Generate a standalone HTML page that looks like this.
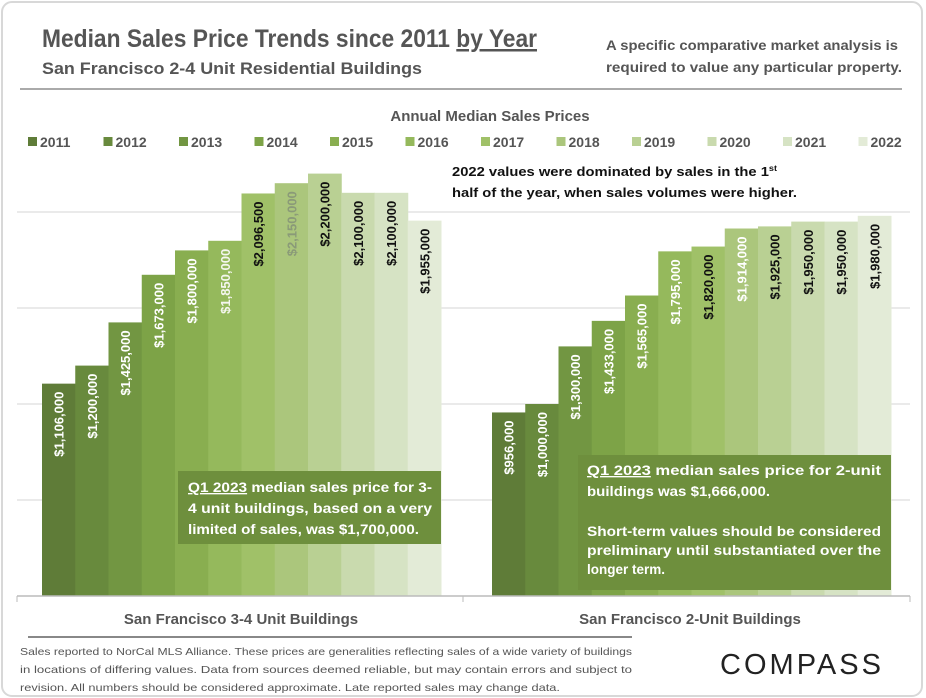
<!DOCTYPE html>
<html><head><meta charset="utf-8">
<style>
body{margin:0;background:#fff;font-family:"Liberation Sans",sans-serif;}
#wrap{position:relative;width:926px;height:698px;overflow:hidden;background:#fff;}
</style></head>
<body>
<div id="wrap">
<svg id="chart" width="926" height="698" style="position:absolute;left:0;top:0">
<rect x="2" y="2" width="920" height="694" rx="10" fill="#fff" stroke="#d8d8d8" stroke-width="2"/>
<text x="42" y="47" font-size="25" font-weight="bold" fill="#555" textLength="495" lengthAdjust="spacingAndGlyphs">Median Sales Price Trends since 2011 <tspan text-decoration="underline">by Year</tspan></text>
<text x="42" y="74" font-size="17" font-weight="bold" fill="#555" textLength="380" lengthAdjust="spacingAndGlyphs">San Francisco 2-4 Unit Residential Buildings</text>
<text x="606" y="50" font-size="14" font-weight="bold" fill="#555" textLength="292" lengthAdjust="spacingAndGlyphs">A specific comparative market analysis is</text>
<text x="606" y="72" font-size="14" font-weight="bold" fill="#555" textLength="296" lengthAdjust="spacingAndGlyphs">required to value any particular property.</text>
<line x1="20" y1="89" x2="902" y2="89" stroke="#aaa" stroke-width="2"/>
<text x="490" y="121" text-anchor="middle" font-size="15" font-weight="bold" fill="#555">Annual Median Sales Prices</text>
<g id="legend"></g>
<g id="grid"></g>
<g id="bars"></g>
<text x="452" y="176" font-size="13" font-weight="bold" fill="#111" textLength="325" lengthAdjust="spacingAndGlyphs">2022 values were dominated by sales in the 1<tspan font-size="8" dy="-5">st</tspan></text>
<text x="452" y="197" font-size="13" font-weight="bold" fill="#111" textLength="345" lengthAdjust="spacingAndGlyphs">half of the year, when sales volumes were higher.</text>
<g>
<rect x="178" y="471" width="263" height="73" fill="#6e8f3d"/>
<text x="188" y="492" font-size="13.5" font-weight="bold" fill="#fff" textLength="244" lengthAdjust="spacingAndGlyphs"><tspan text-decoration="underline">Q1 2023</tspan> median sales price for 3-</text>
<text x="188" y="513" font-size="13.5" font-weight="bold" fill="#fff" textLength="244" lengthAdjust="spacingAndGlyphs">4 unit buildings, based on a very</text>
<text x="188" y="534" font-size="13.5" font-weight="bold" fill="#fff" textLength="231" lengthAdjust="spacingAndGlyphs">limited of sales, was $1,700,000.</text>
</g>
<g>
<rect x="578" y="455" width="313" height="135" fill="#6e8f3d"/>
<text x="587" y="475" font-size="13.5" font-weight="bold" fill="#fff" textLength="294" lengthAdjust="spacingAndGlyphs"><tspan text-decoration="underline">Q1 2023</tspan> median sales price for 2-unit</text>
<text x="587" y="496" font-size="13.5" font-weight="bold" fill="#fff" textLength="183" lengthAdjust="spacingAndGlyphs">buildings was $1,666,000.</text>
<text x="587" y="536" font-size="13.5" font-weight="bold" fill="#fff" textLength="294" lengthAdjust="spacingAndGlyphs">Short-term values should be considered</text>
<text x="587" y="555" font-size="13.5" font-weight="bold" fill="#fff" textLength="294" lengthAdjust="spacingAndGlyphs">preliminary until substantiated over the</text>
<text x="587" y="574" font-size="13.5" font-weight="bold" fill="#fff">longer term.</text>
</g>
<line x1="17" y1="596" x2="910" y2="596" stroke="#bbb" stroke-width="1.5"/>
<line x1="17" y1="596" x2="17" y2="602" stroke="#bbb"/><line x1="463" y1="596" x2="463" y2="602" stroke="#bbb"/><line x1="910" y1="596" x2="910" y2="602" stroke="#bbb"/>
<text id="cat0" x="241" y="624" text-anchor="middle" font-size="15" font-weight="bold" fill="#555">San Francisco 3-4 Unit Buildings</text>
<text id="cat1" x="690" y="624" text-anchor="middle" font-size="15" font-weight="bold" fill="#555">San Francisco 2-Unit Buildings</text>
<line x1="28" y1="637" x2="632" y2="637" stroke="#888" stroke-width="2"/>
<g font-size="10.5" fill="#555">
<text x="20" y="655" textLength="612" lengthAdjust="spacingAndGlyphs">Sales reported to NorCal MLS Alliance. These prices are generalities reflecting sales of a wide variety of buildings</text>
<text x="20" y="673" textLength="612" lengthAdjust="spacingAndGlyphs">in locations of differing values. Data from sources deemed reliable, but may contain errors and subject to</text>
<text x="20" y="691" textLength="540" lengthAdjust="spacingAndGlyphs">revision. All numbers should be considered approximate. Late reported sales may change data.</text>
</g>
<text x="802" y="674" text-anchor="middle" font-size="29" fill="#222" letter-spacing="3">COMPASS</text>
</svg>
</div>
<script>
const years=["2011","2012","2013","2014","2015","2016","2017","2018","2019","2020","2021","2022"];
const categories=["San Francisco 3-4 Unit Buildings","San Francisco 2-Unit Buildings"];
const values34=[1106000,1200000,1425000,1673000,1800000,1850000,2096500,2150000,2200000,2100000,2100000,1955000];
const values2=[956000,1000000,1300000,1433000,1565000,1795000,1820000,1914000,1925000,1950000,1950000,1980000];
const gridTicks=[500000,1000000,1500000,2000000];
const colors=["#5f7c38","#688a3d","#729642","#7da347","#89ae50","#95b95c","#a0c168","#abc67c","#b9d093","#c9daae","#d6e3c4","#e3ebd7"];
const textColors=["#fff","#fff","#fff","#fff","#fff","#f4f6ee","#111","#8a9a78","#111","#111","#111","#111"];
const textColors2=["#fff","#fff","#fff","#fff","#fff","#fff","#111","#fff","#111","#111","#111","#111"];
const NS="http://www.w3.org/2000/svg";
const base=596, scale=192/1000000;
function y(v){return base-v*scale;}
const groupX=[42,492], barW=33.25;
function x(g,i){return groupX[g]+i*barW;}
const grid=document.getElementById('grid');
gridTicks.forEach(t=>{
  const l=document.createElementNS(NS,'line');
  l.setAttribute('x1',17);l.setAttribute('x2',910);
  l.setAttribute('y1',y(t));l.setAttribute('y2',y(t));
  l.setAttribute('stroke','#e4e4e4');l.setAttribute('stroke-width','1.5');
  
  
  grid.appendChild(l);
});
const bars=document.getElementById('bars');
function fmt(v){return '$'+v.toLocaleString('en-US');}
[values34,values2].forEach((vals,g)=>{
  vals.forEach((v,i)=>{
    const r=document.createElementNS(NS,'rect');
    r.setAttribute('x',x(g,i));r.setAttribute('width',barW+0.5);
    r.setAttribute('y',y(v));r.setAttribute('height',base-y(v));
    r.setAttribute('fill',colors[i]);
    
    
    bars.appendChild(r);
    const t=document.createElementNS(NS,'text');
    const cx=x(g,i)+barW/2+5, ty=y(v)+8;
    t.setAttribute('x',cx);t.setAttribute('y',ty);
    t.setAttribute('transform','rotate(-90 '+cx+' '+ty+')');
    t.setAttribute('text-anchor','end');
    t.setAttribute('font-size','13');t.setAttribute('font-weight','bold');
    t.setAttribute('fill',(g?textColors2:textColors)[i]);
    t.textContent=fmt(v);
    
    
    bars.appendChild(t);
  });
});
const leg=document.getElementById('legend');
years.forEach((yr,i)=>{
  const lx=28+i*75.5;
  const r=document.createElementNS(NS,'rect');
  r.setAttribute('x',lx);r.setAttribute('y',137);r.setAttribute('width',9);r.setAttribute('height',9);
  r.setAttribute('fill',colors[i]);
  
  
  leg.appendChild(r);
  const t=document.createElementNS(NS,'text');
  t.setAttribute('x',lx+12);t.setAttribute('y',147);
  t.setAttribute('font-size','14');t.setAttribute('font-weight','bold');t.setAttribute('fill','#555');
  t.textContent=yr;
  
  
  leg.appendChild(t);
});
</script>
</body></html>
